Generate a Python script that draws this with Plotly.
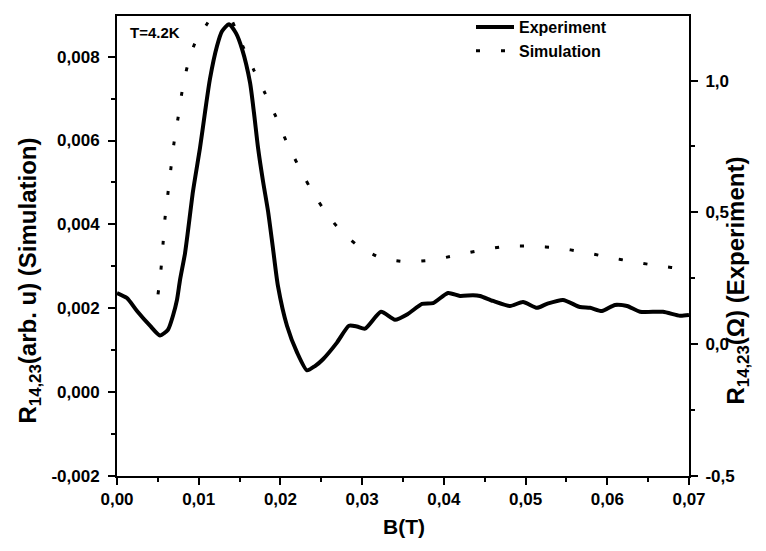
import plotly.graph_objects as go

# ---------------- data ----------------
exp_B = [0.0, 0.00122, 0.00245, 0.00404, 0.00526, 0.00624, 0.00685, 0.00734, 0.00771,
         0.00832, 0.00869, 0.00930, 0.01016, 0.01077, 0.01138, 0.01224, 0.01285, 0.01371,
         0.01456, 0.01530, 0.01628, 0.01677, 0.01726, 0.01787, 0.01848, 0.01909, 0.01970,
         0.02080, 0.02203, 0.02325, 0.02423, 0.02521, 0.02692, 0.02839, 0.02937, 0.03035,
         0.03231, 0.03402, 0.03561, 0.03733, 0.03867, 0.04051, 0.04198, 0.04357, 0.04442,
         0.04602, 0.04810, 0.04969, 0.05140, 0.05262, 0.05458, 0.05666, 0.05789, 0.05935,
         0.06095, 0.06242, 0.06401, 0.06682, 0.06890, 0.07000]
exp_R = [0.194, 0.175, 0.126, 0.070, 0.033, 0.055, 0.108, 0.168, 0.243,
         0.344, 0.430, 0.580, 0.745, 0.880, 1.007, 1.131, 1.187, 1.214,
         1.180, 1.120, 0.992, 0.876, 0.745, 0.618, 0.505, 0.363, 0.220,
         0.070, -0.031, -0.099, -0.083, -0.057, 0.006, 0.070, 0.067, 0.059,
         0.123, 0.093, 0.115, 0.153, 0.156, 0.194, 0.183, 0.186, 0.183,
         0.164, 0.145, 0.160, 0.138, 0.153, 0.168, 0.141, 0.138, 0.126,
         0.149, 0.145, 0.123, 0.123, 0.108, 0.111]

sim_B = [0.00502, 0.00538, 0.00563, 0.00587, 0.00624, 0.00661, 0.00698, 0.00747, 0.00795,
         0.00857, 0.00955, 0.01101, 0.01285, 0.01542, 0.01677, 0.01811, 0.01946, 0.02068,
         0.02203, 0.02350, 0.02509, 0.02692, 0.02937, 0.03231, 0.03549, 0.03855, 0.04161,
         0.04467, 0.04773, 0.05091, 0.05397, 0.05703, 0.06009, 0.06315, 0.06633, 0.06939,
         0.07000]
sim_R = [0.00233, 0.00292, 0.00353, 0.00414, 0.00475, 0.00536, 0.00595, 0.00654, 0.00715,
         0.00774, 0.00833, 0.00878, 0.00927, 0.00824, 0.00767, 0.00713, 0.00656, 0.00600,
         0.00546, 0.00492, 0.00442, 0.00395, 0.00351, 0.00320, 0.00311, 0.00315, 0.00327,
         0.00339, 0.00348, 0.00348, 0.00344, 0.00334, 0.00322, 0.00311, 0.00301, 0.00294,
         0.00293]

x_tickvals = [0.00, 0.01, 0.02, 0.03, 0.04, 0.05, 0.06, 0.07]
x_ticktext = ["0,00", "0,01", "0,02", "0,03", "0,04", "0,05", "0,06", "0,07"]
yl_tickvals = [-0.002, 0.000, 0.002, 0.004, 0.006, 0.008]
yl_ticktext = ["-0,002", "0,000", "0,002", "0,004", "0,006", "0,008"]
yr_tickvals = [-0.5, 0.0, 0.5, 1.0]
yr_ticktext = ["-0,5", "0,0", "0,5", "1,0"]

FONT = "Liberation Sans, Arial, sans-serif"

# page body has an 8px default margin; plot area spans x 117..689, y 10..476 in the window
OFF = 8
PL, PR, PT, PB = 117, 689, 10, 476


def px(x):
    return (x - PL) / (PR - PL)


def py(y):
    return (PB - y) / (PB - PT)


fig = go.Figure()
fig.add_trace(go.Scatter(
    x=exp_B, y=exp_R, name="Experiment", yaxis="y2", mode="lines",
    line=dict(color="black", width=4, shape="spline", smoothing=0.6),
))
fig.add_trace(go.Scatter(
    x=sim_B, y=sim_R, name="Simulation", yaxis="y", mode="lines",
    line=dict(color="black", width=3, dash="4px,21px", shape="spline", smoothing=0.6),
))

axis_common = dict(
    showline=True, linecolor="black", linewidth=2,
    ticks="outside", ticklen=7, tickwidth=2, tickcolor="black",
    showgrid=False, zeroline=False,
    tickfont=dict(family=FONT, size=17, color="black", weight="bold"),
)

W, H = 766 - OFF, 551 - OFF
fig.update_layout(
    width=W, height=H,
    margin=dict(l=PL - OFF, r=W + OFF - PR, t=PT - OFF, b=H + OFF - PB),
    paper_bgcolor="white", plot_bgcolor="white",
    font=dict(family=FONT, color="black"),
    xaxis=dict(
        range=[0, 0.07], tickmode="array", tickvals=x_tickvals, ticktext=x_ticktext,
        mirror=True, ticklabelstandoff=0,
        minor=dict(tick0=0, dtick=0.005, ticks="outside", ticklen=4, tickwidth=2, tickcolor="black"),
        **axis_common,
    ),
    yaxis=dict(
        range=[-0.002, 0.00897], tickmode="array", tickvals=yl_tickvals, ticktext=yl_ticktext,
        ticklabelstandoff=5,
        minor=dict(tick0=0, dtick=0.001, ticks="outside", ticklen=4, tickwidth=2, tickcolor="black"),
        **axis_common,
    ),
    yaxis2=dict(
        range=[-0.5, 1.245], tickmode="array", tickvals=yr_tickvals, ticktext=yr_ticktext,
        overlaying="y", side="right", ticklabelstandoff=4,
        minor=dict(tick0=0, dtick=0.25, ticks="outside", ticklen=4, tickwidth=2, tickcolor="black"),
        **axis_common,
    ),
    legend=dict(
        x=px(471), y=py(4), xanchor="left", yanchor="top",
        bgcolor="rgba(0,0,0,0)", itemwidth=38,
        font=dict(family=FONT, size=16, color="black", weight="bold"),
        tracegroupgap=0,
    ),
    showlegend=True,
)

fig.add_annotation(
    text="T=4.2K", xref="paper", yref="paper",
    x=px(128), y=py(27), xanchor="left", yanchor="middle",
    showarrow=False, font=dict(family=FONT, size=15, color="black", weight="bold"),
)
fig.add_annotation(
    text="R<sub>14,23</sub>(arb. u) (Simulation)", xref="paper", yref="paper",
    x=px(30), y=py(278), xanchor="center", yanchor="middle",
    textangle=-90, showarrow=False,
    font=dict(family=FONT, size=24, color="black", weight="bold"),
)
fig.add_annotation(
    text="R<sub>14,23</sub>(Ω) (Experiment)", xref="paper", yref="paper",
    x=px(738), y=py(278), xanchor="center", yanchor="middle",
    textangle=-90, showarrow=False,
    font=dict(family=FONT, size=24, color="black", weight="bold"),
)
fig.add_annotation(
    text="B(T)", xref="paper", yref="paper",
    x=px(404), y=py(527), xanchor="center", yanchor="middle",
    showarrow=False, font=dict(family=FONT, size=21, color="black", weight="bold"),
)

fig.write_html("out.html")
